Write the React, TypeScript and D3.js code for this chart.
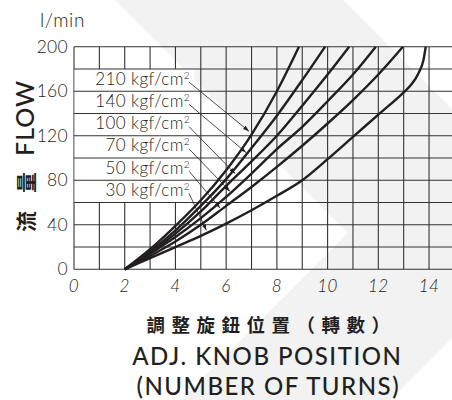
import React from "react";
import * as d3 from "d3";

const pressureLabels = ["210", "140", "100", "70", "50", "30"];
const labelFlow = [170, 150, 130, 110, 90, 70];
const arrowTurns = [6.9, 6.78, 6.35, 6.15, 5.76, 5.22];
const arrowFlow = [124, 105, 86, 70, 55, 35];

const turns210 = [2, 3, 4, 5, 6, 7, 8, 8.87];
const flow210 = [0, 18, 39, 62, 89, 121, 160, 200];
const turns140 = [2, 3, 4, 5, 6, 7, 8, 9, 9.9];
const flow140 = [0, 16, 35, 57, 81, 109, 138, 170, 200];
const turns100 = [2, 3, 4, 5, 6, 7, 8, 9, 10, 10.85];
const flow100 = [0, 15, 32, 52, 75, 97, 120, 147, 175, 200];
const turns70 = [2, 3, 4, 5, 6, 7, 8, 9, 10, 11, 11.9];
const flow70 = [0, 14, 29, 46, 65, 86, 108, 128, 151, 175, 200];
const turns50 = [2, 3, 4, 5, 6, 7, 8, 9, 10, 11, 12, 12.97];
const flow50 = [0, 12, 25, 40, 57, 74, 92, 111, 131, 152, 175, 200];
const turns30 = [2, 3, 4, 5, 6, 7, 8, 9, 10, 11, 12, 13, 13.3, 13.58, 13.78, 13.87];
const flow30 = [0, 10, 20, 30, 41, 53, 66, 80, 99, 119, 139, 159, 166, 176, 188, 200];

const seriesTurns = [turns210, turns140, turns100, turns70, turns50, turns30];
const seriesFlow = [flow210, flow140, flow100, flow70, flow50, flow30];

const xTickValues = [0, 2, 4, 6, 8, 10, 12, 14];
const yTickValues = [0, 40, 80, 120, 160, 200];

const W = 452;
const H = 400;
const LAT = "Lato, 'Open Sans', sans-serif";
const CJK = "'Noto Sans CJK TC', 'Noto Sans CJK SC', sans-serif";

export default function App() {
  const x = d3.scaleLinear().domain([0, 15]).range([74, 454.4]);
  const y = d3.scaleLinear().domain([0, 200]).range([269.3, 46.7]);
  const line = d3
    .line<[number, number]>()
    .x((d) => x(d[0]))
    .y((d) => y(d[1]))
    .curve(d3.curveMonotoneX);

  const vGrid = x.ticks(15);
  const hGrid = y.ticks(10);
  const ink = "#231f20";

  return (
    <svg
      width={W}
      height={H}
      style={{ position: "absolute", left: 0, top: 0, background: "#fff" }}
    >
      <defs>
        <marker
          id="arr"
          viewBox="0 0 10 10"
          refX="10"
          refY="5"
          markerWidth="6"
          markerHeight="6"
          orient="auto"
          markerUnits="userSpaceOnUse"
        >
          <path d="M0,1.5 L10,5 L0,8.5 z" fill={ink} />
        </marker>
      </defs>
      {/* watermark chevron */}
      <polygon
        points="115,0 343,0 452,109 452,338 390,400 181,400 348,233"
        fill="#f2f2f2"
      />
      {/* vertical grid */}
      {vGrid.map((t) => (
        <line
          key={"v" + t}
          x1={x(t)}
          x2={x(t)}
          y1={y(0)}
          y2={y(200)}
          stroke="#333"
          strokeWidth={1.1}
        />
      ))}
      {/* label box */}
      <rect
        x={x(0) + 0.6}
        y={y(180)}
        width={x(4.72) - x(0)}
        height={y(60) - y(180)}
        fill="#fff"
      />
      {/* horizontal grid */}
      {hGrid.map((t) => (
        <line
          key={"h" + t}
          x1={x(0)}
          x2={W}
          y1={y(t)}
          y2={y(t)}
          stroke="#333"
          strokeWidth={1.1}
        />
      ))}
      {/* curves */}
      {seriesTurns.map((ts, i) => (
        <path
          key={"c" + i}
          d={line(ts.map((t, j) => [t, seriesFlow[i][j]] as [number, number])) || ""}
          fill="none"
          stroke={ink}
          strokeWidth={2.4}
          strokeLinejoin="round"
        />
      ))}
      {/* labels and leaders */}
      {pressureLabels.map((p, i) => (
        <g key={"l" + i}>
          <text
            x={190}
            y={y(labelFlow[i]) + 4.5}
            textAnchor="end"
            fontFamily={LAT}
            fontWeight={300}
            fontSize={17}
            letterSpacing={0.4}
            fill={ink}
          >
            {p} kgf/cm
            <tspan dy={-6} fontSize={10}>
              2
            </tspan>
          </text>
          <line
            x1={189}
            y1={y(labelFlow[i]) + 2}
            x2={x(arrowTurns[i])}
            y2={y(arrowFlow[i])}
            stroke={ink}
            strokeWidth={0.8}
            markerEnd="url(#arr)"
          />
        </g>
      ))}
      {/* y ticks */}
      {yTickValues.map((t) => (
        <text
          key={"yt" + t}
          x={68}
          y={y(t) + 6}
          textAnchor="end"
          fontFamily={LAT}
          fontWeight={300}
          fontSize={17.5}
          letterSpacing={0.3}
          fill={ink}
        >
          {t}
        </text>
      ))}
      {/* x ticks */}
      {xTickValues.map((t) => (
        <text
          key={"xt" + t}
          x={x(t)}
          y={292}
          textAnchor="middle"
          fontFamily={LAT}
          fontWeight={300}
          fontStyle="italic"
          fontSize={17}
          letterSpacing={0.5}
          fill={ink}
        >
          {t}
        </text>
      ))}
      <text
        x={40}
        y={27}
        fontFamily={LAT}
        fontWeight={300}
        fontSize={19}
        letterSpacing={0.6}
        fill={ink}
      >
        l/min
      </text>
      {/* y title */}
      <g transform="translate(34,232) rotate(-90)">
        <text fontFamily={LAT} fontSize={25} fontWeight={500} fill={ink}>
          <tspan fontFamily={CJK} fontWeight={700} fontSize={21}>
            流
          </tspan>
          <tspan dx={18} fontFamily={CJK} fontWeight={700} fontSize={21}>
            量
          </tspan>
          <tspan dx={16} letterSpacing={1}>
            FLOW
          </tspan>
        </text>
      </g>
      {/* x titles */}
      <text
        x={268 + 3.5}
        y={332}
        textAnchor="middle"
        fontFamily={CJK}
        fontWeight={700}
        fontSize={18.5}
        letterSpacing={6.5}
        fill={ink}
      >
        調整旋鈕位置（轉數）
      </text>
      <text
        x={267.3}
        y={365}
        textAnchor="middle"
        fontFamily={LAT}
        fontWeight={500}
        fontSize={24}
        letterSpacing={1.5}
        fill={ink}
      >
        ADJ. KNOB POSITION
      </text>
      <text
        x={268.3}
        y={395}
        textAnchor="middle"
        fontFamily={LAT}
        fontWeight={500}
        fontSize={24}
        letterSpacing={1.5}
        fill={ink}
      >
        (NUMBER OF TURNS)
      </text>
    </svg>
  );
}
